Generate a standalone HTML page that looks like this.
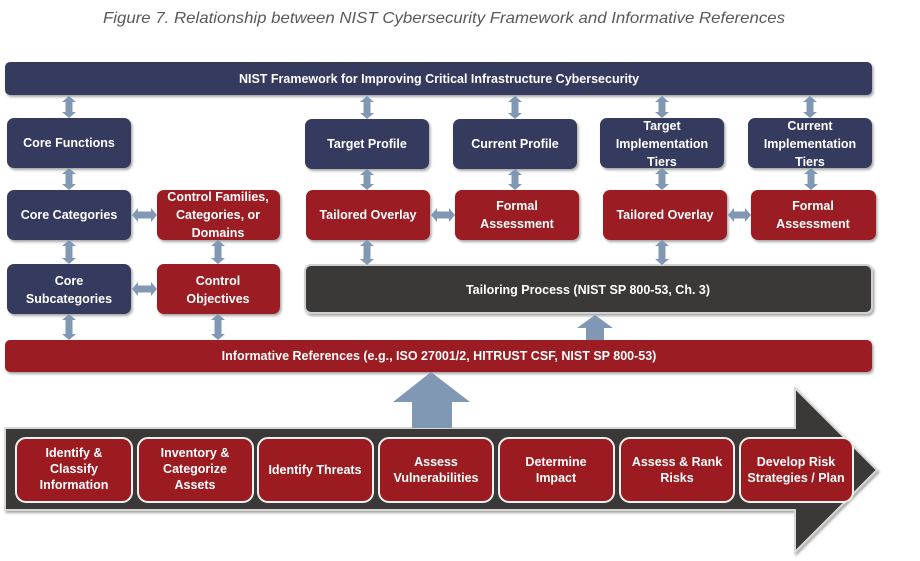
<!DOCTYPE html>
<html><head><meta charset="utf-8"><style>
html,body{margin:0;padding:0;background:#fff;width:920px;height:561px;overflow:hidden}
svg{display:block}
text{font-family:"Liberation Sans",sans-serif;font-weight:bold;fill:#fff;font-size:12.5px;text-anchor:middle}
.t{font-weight:normal;font-style:italic;fill:#595959;font-size:16px;text-anchor:start}
.s{font-size:12px}
.n{fill:#363a5e;filter:url(#sh)}
.r{fill:#9b1b20;filter:url(#sh)}
.a{fill:#8198b4}
.w{fill:#9b1b20;stroke:#f2f2f2;stroke-width:2}
</style></head><body>
<svg width="920" height="561" viewBox="0 0 920 561">
<defs><filter id="sh" x="-5%" y="-10%" width="110%" height="130%"><feDropShadow dx="1.5" dy="2" stdDeviation="1.2" flood-color="#000" flood-opacity="0.35"/></filter></defs>
<text class="t" x="103" y="23" textLength="682" lengthAdjust="spacingAndGlyphs">Figure 7. Relationship between NIST Cybersecurity Framework and Informative References</text>

<rect class="n" x="5" y="62" width="867" height="33" rx="5"/>
<text x="439" y="83">NIST Framework for Improving Critical Infrastructure Cybersecurity</text>

<rect class="n" x="7" y="118" width="124" height="50" rx="7"/><text x="69" y="147">Core Functions</text>
<rect class="n" x="7" y="190" width="124" height="50" rx="7"/><text x="69" y="219">Core Categories</text>
<rect class="n" x="7" y="264" width="124" height="50" rx="7"/><text x="69" y="285">Core</text><text x="69" y="303">Subcategories</text>
<rect class="r" x="157" y="190" width="123" height="50" rx="7"/><text x="218" y="201">Control Families,</text><text x="218" y="219">Categories, or</text><text x="218" y="237">Domains</text>
<rect class="r" x="157" y="264" width="123" height="50" rx="7"/><text x="218" y="285">Control</text><text x="218" y="303">Objectives</text>

<rect class="n" x="305" y="119" width="124" height="50" rx="7"/><text x="367" y="148">Target Profile</text>
<rect class="n" x="453" y="119" width="124" height="50" rx="7"/><text x="515" y="148">Current Profile</text>
<rect class="n" x="600" y="118" width="124" height="50" rx="7"/><text x="662" y="130">Target</text><text x="662" y="148">Implementation</text><text x="662" y="166">Tiers</text>
<rect class="n" x="748" y="118" width="124" height="50" rx="7"/><text x="810" y="130">Current</text><text x="810" y="148">Implementation</text><text x="810" y="166">Tiers</text>

<rect class="r" x="306" y="190" width="124" height="50" rx="7"/><text x="368" y="219">Tailored Overlay</text>
<rect class="r" x="455" y="190" width="124" height="50" rx="7"/><text x="517" y="210">Formal</text><text x="517" y="228">Assessment</text>
<rect class="r" x="603" y="190" width="124" height="50" rx="7"/><text x="665" y="219">Tailored Overlay</text>
<rect class="r" x="751" y="190" width="125" height="50" rx="7"/><text x="813" y="210">Formal</text><text x="813" y="228">Assessment</text>

<rect x="305" y="265" width="567" height="48" rx="6" fill="#3a3937" stroke="#d0d0d0" stroke-width="2" filter="url(#sh)"/>
<text x="588" y="294">Tailoring Process (NIST SP 800-53, Ch. 3)</text>

<rect class="r" x="5" y="340" width="867" height="32" rx="5"/>
<text x="439" y="360">Informative References (e.g., ISO 27001/2, HITRUST CSF, NIST SP 800-53)</text>

<polygon class="a" points="595,315 613,328 604,328 604,340 586,340 586,328 577,328"/>

<g class="a">
<polygon points="69,96 76,102 72.5,102 72.5,112 76,112 69,118 62,112 65.5,112 65.5,102 62,102"/>
<polygon points="69,168 76,174 72.5,174 72.5,184 76,184 69,190 62,184 65.5,184 65.5,174 62,174"/>
<polygon points="69,240 76,246 72.5,246 72.5,258 76,258 69,264 62,258 65.5,258 65.5,246 62,246"/>
<polygon points="69,314 76,320 72.5,320 72.5,334 76,334 69,340 62,334 65.5,334 65.5,320 62,320"/>
<polygon points="218,240 225,246 221.5,246 221.5,258 225,258 218,264 211,258 214.5,258 214.5,246 211,246"/>
<polygon points="218,314 225,320 221.5,320 221.5,334 225,334 218,340 211,334 214.5,334 214.5,320 211,320"/>
<polygon points="367,96 374,102 370.5,102 370.5,113 374,113 367,119 360,113 363.5,113 363.5,102 360,102"/>
<polygon points="367,169 374,175 370.5,175 370.5,184 374,184 367,190 360,184 363.5,184 363.5,175 360,175"/>
<polygon points="367,240 374,246 370.5,246 370.5,259 374,259 367,265 360,259 363.5,259 363.5,246 360,246"/>
<polygon points="515,96 522,102 518.5,102 518.5,113 522,113 515,119 508,113 511.5,113 511.5,102 508,102"/>
<polygon points="515,169 522,175 518.5,175 518.5,184 522,184 515,190 508,184 511.5,184 511.5,175 508,175"/>
<polygon points="662,96 669,102 665.5,102 665.5,112 669,112 662,118 655,112 658.5,112 658.5,102 655,102"/>
<polygon points="662,168 669,174 665.5,174 665.5,184 669,184 662,190 655,184 658.5,184 658.5,174 655,174"/>
<polygon points="662,240 669,246 665.5,246 665.5,259 669,259 662,265 655,259 658.5,259 658.5,246 655,246"/>
<polygon points="810,96 817,102 813.5,102 813.5,112 817,112 810,118 803,112 806.5,112 806.5,102 803,102"/>
<polygon points="811,168 818,174 814.5,174 814.5,184 818,184 811,190 804,184 807.5,184 807.5,174 804,174"/>
<polygon points="132,215 138,208 138,211.5 151,211.5 151,208 157,215 151,222 151,218.5 138,218.5 138,222"/>
<polygon points="132,289 138,282 138,285.5 151,285.5 151,282 157,289 151,296 151,292.5 138,292.5 138,296"/>
<polygon points="431,215 437,208 437,211.5 449,211.5 449,208 455,215 449,222 449,218.5 437,218.5 437,222"/>
<polygon points="728,215 734,208 734,211.5 745,211.5 745,208 751,215 745,222 745,218.5 734,218.5 734,222"/>
</g>

<polygon points="5,428 795,428 795,388 877,470 795,552 795,510 5,510" fill="#3a3937" stroke="#d8d8d8" stroke-width="2" filter="url(#sh)"/>
<polygon class="a" points="431,372 470,402 452,402 452,428 412,428 412,402 393,402"/>

<g class="s">
<rect class="w" x="16" y="438" width="116" height="64" rx="10"/><text x="74" y="457">Identify &amp;</text><text x="74" y="473">Classify</text><text x="74" y="489">Information</text>
<rect class="w" x="138" y="438" width="115" height="64" rx="10"/><text x="195" y="457">Inventory &amp;</text><text x="195" y="473">Categorize</text><text x="195" y="489">Assets</text>
<rect class="w" x="258" y="438" width="115" height="64" rx="10"/><text x="315" y="474">Identify Threats</text>
<rect class="w" x="379" y="438" width="114" height="64" rx="10"/><text x="436" y="466">Assess</text><text x="436" y="482">Vulnerabilities</text>
<rect class="w" x="499" y="438" width="115" height="64" rx="10"/><text x="556" y="466">Determine</text><text x="556" y="482">Impact</text>
<rect class="w" x="620" y="438" width="114" height="64" rx="10"/><text x="677" y="466">Assess &amp; Rank</text><text x="677" y="482">Risks</text>
<rect class="w" x="740" y="438" width="113" height="64" rx="10"/><text x="796" y="466">Develop Risk</text><text x="796" y="482">Strategies / Plan</text>
</g>
</svg>
</body></html>
